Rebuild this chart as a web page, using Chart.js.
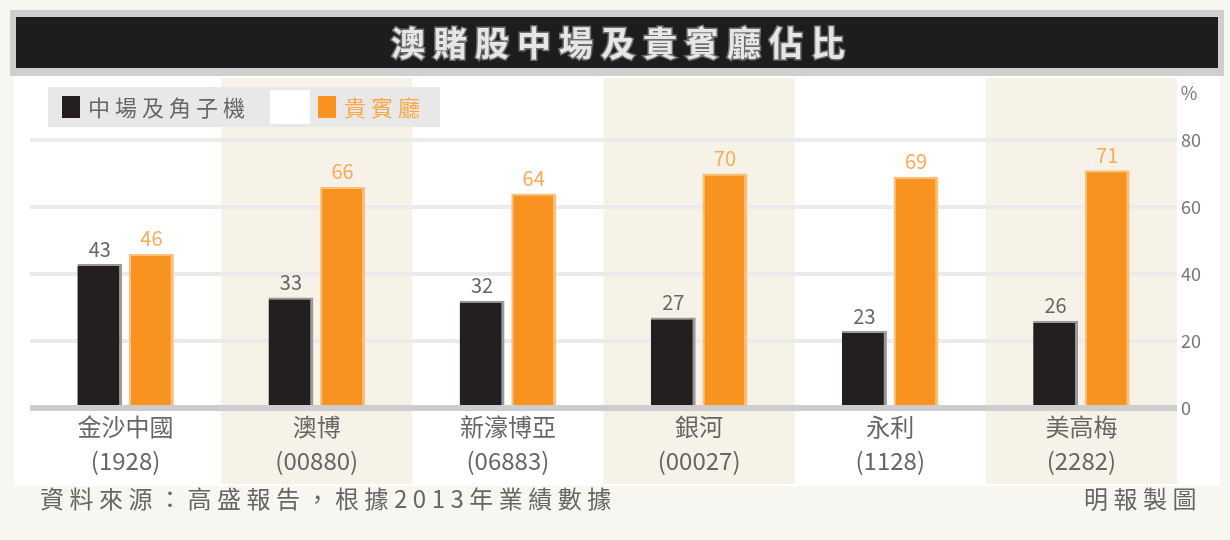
<!DOCTYPE html>
<html>
<head>
<meta charset="utf-8">
<script src="https://cdn.jsdelivr.net/npm/chart.js@4"></script>
<style>
  html, body { margin: 0; padding: 0; background: #f8f6f0; }
  #c { display: block; }
</style>
</head>
<body>
<canvas id="c" width="1230" height="540"></canvas>
<script>
const black = "#231f20";
const orange = "#f7931e";
const font = '"Noto Sans CJK TC", "Noto Sans", sans-serif';

const titleText = "澳賭股中場及貴賓廳佔比";
const names = ["金沙中國", "澳博", "新濠博亞", "銀河", "永利", "美高梅"];
const codes = ["(1928)", "(00880)", "(06883)", "(00027)", "(1128)", "(2282)"];
const massShare = [43, 33, 32, 27, 23, 26];
const vipShare = [46, 66, 64, 70, 69, 71];
const yTicks = [0, 20, 40, 60, 80];
const legendNames = ["中場及角子機", "貴賓廳"];
const sourceText = "資料來源：高盛報告，根據2013年業績數據";
const creditText = "明報製圖";

// background, title band, shaded category columns, legend
const decor = {
  id: "decor",
  beforeDraw(chart) {
    const { ctx, scales: { x } } = chart;
    ctx.save();
    ctx.fillStyle = "#f8f6f0";
    ctx.fillRect(0, 0, chart.width, chart.height);
    ctx.fillStyle = "#ffffff";
    ctx.fillRect(14, 76, 1206, 410);

    // alternate column bands
    const w = x.getPixelForValue(1) - x.getPixelForValue(0);
    names.forEach((n, i) => {
      if (i % 2 === 1) {
        ctx.fillStyle = "#f6f2e7";
        ctx.fillRect(x.getPixelForValue(i) - w / 2, 78, w, 406);
      }
    });

    // title band
    ctx.fillStyle = "#cfcfcf";
    ctx.fillRect(10, 10, 1214, 66);
    ctx.fillStyle = "#1e1c1c";
    ctx.fillRect(16, 17, 1202, 51);
    ctx.font = "bold 34px " + font;
    ctx.letterSpacing = "8px";
    ctx.textAlign = "center";
    ctx.textBaseline = "middle";
    ctx.lineWidth = 3;
    ctx.strokeStyle = "#6e6e6e";
    ctx.strokeText(titleText, 622, 43);
    ctx.fillStyle = "#e6e6e6";
    ctx.fillText(titleText, 622, 43);

    // legend
    ctx.letterSpacing = "5px";
    ctx.fillStyle = "#e8e8e8";
    ctx.fillRect(48, 87, 392, 40);
    ctx.fillStyle = "#ffffff";
    ctx.fillRect(270, 90, 40, 34);
    ctx.fillStyle = black;
    ctx.fillRect(62, 96, 18, 22);
    ctx.fillStyle = orange;
    ctx.fillRect(318, 96, 18, 22);
    ctx.font = "22px " + font;
    ctx.textAlign = "left";
    ctx.fillStyle = "#666";
    ctx.fillText(legendNames[0], 88, 108);
    ctx.fillStyle = "#f9a84a";
    ctx.fillText(legendNames[1], 344, 108);
    ctx.restore();
  },
  afterDatasetsDraw(chart) {
    const { ctx } = chart;
    ctx.save();
    ctx.font = "20px " + font;
    ctx.textAlign = "center";
    ctx.textBaseline = "middle";
    chart.data.datasets.forEach((ds, di) => {
      const meta = chart.getDatasetMeta(di);
      ctx.fillStyle = di === 0 ? "#666" : "#f9ac55";
      meta.data.forEach((bar, i) => {
        ctx.fillText(String(ds.data[i]), bar.x, bar.y - 15);
      });
    });

    // unit and footer
    ctx.fillStyle = "#777";
    ctx.font = "18px " + font;
    ctx.fillText("%", 1189, 93);
    ctx.font = "24px " + font;
    ctx.letterSpacing = "5.5px";
    ctx.fillStyle = "#666";
    ctx.textAlign = "left";
    ctx.fillText(sourceText, 40, 499);
    ctx.textAlign = "right";
    ctx.fillText(creditText, 1202, 499);
    ctx.restore();
  }
};

new Chart(document.getElementById("c"), {
  type: "bar",
  data: {
    labels: names.map((n, i) => [n, codes[i]]),
    datasets: [
      {
        label: legendNames[0],
        data: massShare,
        backgroundColor: black,
        borderColor: "#9a9a9a",
        borderWidth: { right: 3, top: 2 },
        borderSkipped: "bottom",
      },
      {
        label: legendNames[1],
        data: vipShare,
        backgroundColor: orange,
        borderColor: "#fbbf7a",
        borderWidth: { right: 3, top: 2, left: 2 },
        borderSkipped: "bottom",
      },
    ],
  },
  options: {
    responsive: false,
    animation: false,
    devicePixelRatio: 1,
    categoryPercentage: 0.54,
    barPercentage: 0.87,
    layout: {
      padding: { top: 140, left: 30, right: 8, bottom: 0 },
    },
    plugins: {
      legend: { display: false },
      title: { display: false },
      tooltip: { enabled: false },
    },
    scales: {
      x: {
        grid: { display: false, drawTicks: false, tickLength: 0 },
        border: { display: false },
        ticks: {
          color: "#666",
          font: { family: font, size: 24, lineHeight: 1.42 },
          padding: 2,
          maxRotation: 0,
        },
        afterFit: (s) => { s.height = 132; },
      },
      y: {
        position: "right",
        min: 0,
        max: 80,
        afterBuildTicks: (s) => { s.ticks = yTicks.map((v) => ({ value: v })); },
        grid: {
          color: (c) => (c.tick && c.tick.value === 0 ? "#cdcdcd" : "#ebebeb"),
          lineWidth: (c) => (c.tick && c.tick.value === 0 ? 6 : 4),
          drawTicks: false,
        },
        border: { display: false },
        ticks: {
          color: "#777",
          font: { family: font, size: 18 },
          padding: 4,
        },
        afterFit: (s) => { s.width = 45; },
      },
    },
  },
  plugins: [decor],
});
</script>
</body>
</html>
